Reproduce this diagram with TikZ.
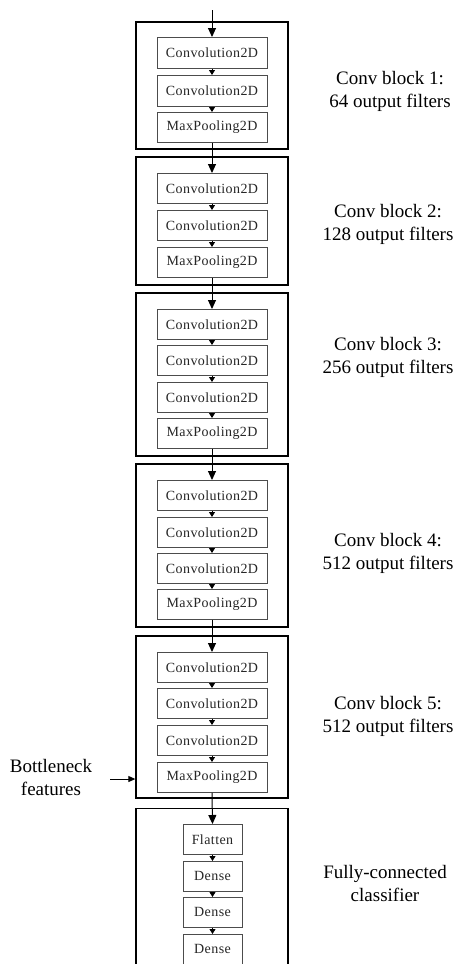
\documentclass[tikz,border=0pt]{standalone}
\usepackage{fontspec}
\setmainfont{Liberation Serif}
\newfontfamily\boxfont[LetterSpace=3]{Liberation Serif}
\usetikzlibrary{arrows.meta}
\begin{document}
\begin{tikzpicture}[x=1pt,y=-1pt,
  blockbox/.style={draw=black, line width=1.3pt, inner sep=0pt, minimum width=152pt},
  layer/.style={draw=black!70, line width=0.8pt, minimum width=110pt, minimum height=30pt, inner sep=0pt, anchor=north, font=\boxfont\fontsize{14}{16}\selectfont, text=black!85},
  fclayer/.style={layer, minimum width=59pt},
  smallarr/.style={-{Triangle[length=5pt,width=6pt]}, line width=0.8pt},
  bigarr/.style={-{Triangle[length=9pt,width=8pt]}, line width=1pt},
  lbl/.style={align=center, font=\fontsize{19}{23}\selectfont}]
\clip (0,0) rectangle (458,964);
\fill[white] (0,0) rectangle (458,964);
% blocks
\node[blockbox, minimum height=127pt] (B1) at (212,85.5) {};
\node[blockbox, minimum height=128pt] (B2) at (212,221) {};
\node[blockbox, minimum height=163pt] (B3) at (212,374.5) {};
\node[blockbox, minimum height=163pt] (B4) at (212,545.5) {};
\node[blockbox, minimum height=162pt] (B5) at (212,717) {};
\node[blockbox, minimum height=200pt, anchor=north] (B6) at (212,808) {};
% block 1
\node[layer, minimum height=31pt] (a1) at (212,37) {Convolution2D};
\node[layer, minimum height=31pt] (a2) at (212,75) {Convolution2D};
\node[layer] (a3) at (212,112) {MaxPooling2D};
% block 2
\node[layer] (b1) at (212,173) {Convolution2D};
\node[layer] (b2) at (212,210) {Convolution2D};
\node[layer] (b3) at (212,247) {MaxPooling2D};
% block 3
\node[layer] (c1) at (212,309) {Convolution2D};
\node[layer] (c2) at (212,345) {Convolution2D};
\node[layer] (c3) at (212,382) {Convolution2D};
\node[layer] (c4) at (212,418) {MaxPooling2D};
% block 4
\node[layer] (d1) at (212,480) {Convolution2D};
\node[layer] (d2) at (212,517) {Convolution2D};
\node[layer] (d3) at (212,553) {Convolution2D};
\node[layer] (d4) at (212,589) {MaxPooling2D};
% block 5
\node[layer] (e1) at (212,652) {Convolution2D};
\node[layer] (e2) at (212,688) {Convolution2D};
\node[layer] (e3) at (212,725) {Convolution2D};
\node[layer] (e4) at (212,762) {MaxPooling2D};
% classifier
\node[fclayer] (f1) at (212.5,824) {Flatten};
\node[fclayer] (f2) at (212.5,861) {Dense};
\node[fclayer] (f3) at (212.5,897) {Dense};
\node[fclayer] (f4) at (212.5,934) {Dense};
% arrows inside blocks
\draw[smallarr] (a1) -- (a2);
\draw[smallarr] (a2) -- (a3);
\draw[smallarr] (b1) -- (b2);
\draw[smallarr] (b2) -- (b3);
\draw[smallarr] (c1) -- (c2);
\draw[smallarr] (c2) -- (c3);
\draw[smallarr] (c3) -- (c4);
\draw[smallarr] (d1) -- (d2);
\draw[smallarr] (d2) -- (d3);
\draw[smallarr] (d3) -- (d4);
\draw[smallarr] (e1) -- (e2);
\draw[smallarr] (e2) -- (e3);
\draw[smallarr] (e3) -- (e4);
\draw[smallarr] (f1) -- (f2);
\draw[smallarr] (f2) -- (f3);
\draw[smallarr] (f3) -- (f4);
% arrows between blocks
\coordinate (input) at (212,10);
\draw[bigarr] (input) -- (a1.north);
\draw[bigarr] (a3.south) -- (b1.north);
\draw[bigarr] (b3.south) -- (c1.north);
\draw[bigarr] (c4.south) -- (d1.north);
\draw[bigarr] (d4.south) -- (e1.north);
\draw[bigarr] (e4.south) -- (f1.north);
% labels
\node[lbl] (L1) at (390,91) {Conv block 1:\\64 output filters};
\node[lbl] (L2) at (388,224) {Conv block 2:\\128 output filters};
\node[lbl] (L3) at (388,357) {Conv block 3:\\256 output filters};
\node[lbl] (L4) at (388,553) {Conv block 4:\\512 output filters};
\node[lbl] (L5) at (388,716) {Conv block 5:\\512 output filters};
\node[lbl] (L6) at (385,883) {Fully-connected\\classifier};
\node[lbl] (bn) at (51,777) {Bottleneck\\features};
\coordinate (bnstart) at (110,779);
\draw[-{Triangle[length=7pt,width=6pt]}, line width=1pt] (bnstart) -- (bnstart -| B5.west);
\end{tikzpicture}
\end{document}
